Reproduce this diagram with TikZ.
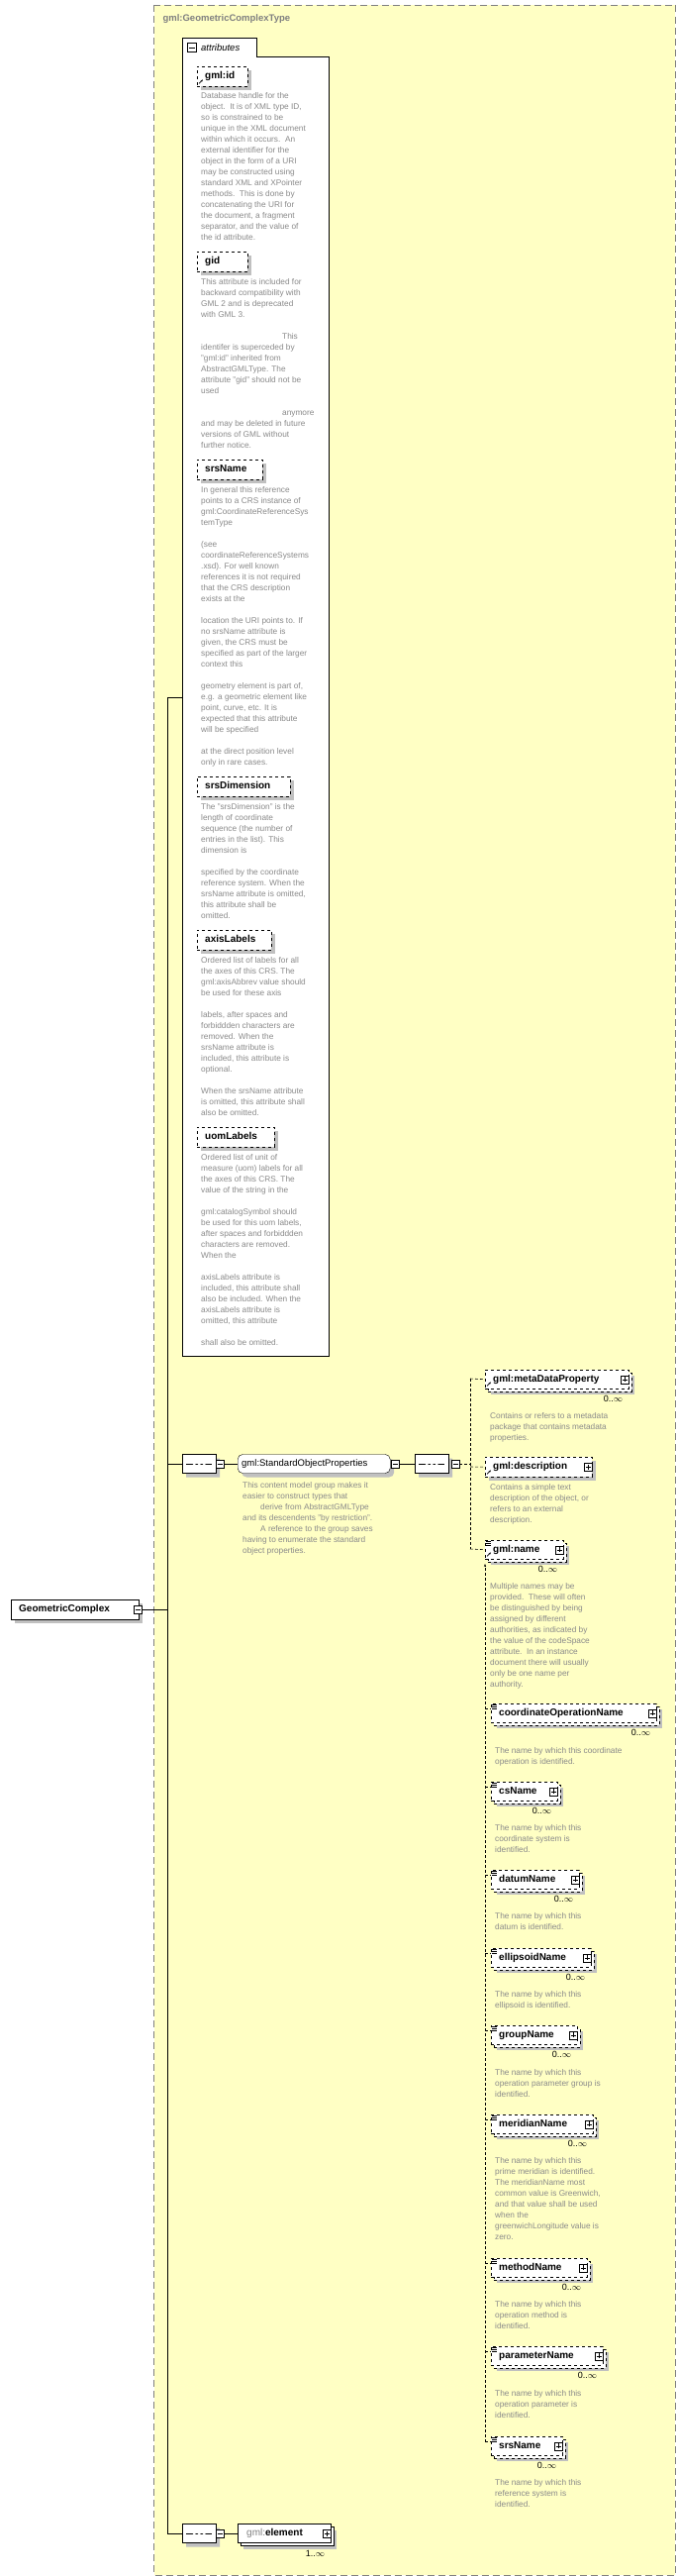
\documentclass[tikz,border=0pt]{standalone}
\usepackage{fontspec}
\setmainfont{Liberation Sans}
\usetikzlibrary{shapes.misc,shadows,calc,arrows.meta}
\definecolor{bgy}{HTML}{FFFFC4}
\definecolor{dgray}{HTML}{8A8A8A}
\definecolor{shd}{HTML}{C0C0C0}
\tikzset{
  elbox/.style={draw, dashed, fill=white, font=\fontsize{10}{12}\selectfont\bfseries, anchor=north west, minimum height=20pt, inner sep=1pt, align=left, drop shadow={shadow xshift=4pt, shadow yshift=-4pt, fill=shd, opacity=1}},
  repbox/.style={draw, dashed, fill=white, font=\fontsize{10}{12}\selectfont\bfseries, anchor=north west, minimum height=19pt, inner sep=1pt, align=left,
     drop shadow={shadow xshift=6pt, shadow yshift=-6pt, fill=shd, opacity=1},
     copy shadow={shadow xshift=3pt, shadow yshift=-3pt, draw, dashed, fill=white}},
  desc/.style={anchor=north west, align=left, inner sep=0pt, text=dgray, font=\fontsize{8.3}{11}\selectfont},
  mult/.style={anchor=north east, inner sep=0pt, font=\fontsize{9}{11}\selectfont},
  pbox/.style={draw, solid, fill=white, minimum size=8pt, inner sep=0pt, path picture={
     \draw ([xshift=1.5pt]path picture bounding box.west)--([xshift=-1.5pt]path picture bounding box.east)
           ([yshift=-1.5pt]path picture bounding box.north)--([yshift=1.5pt]path picture bounding box.south);}},
  mbox/.style={draw, solid, fill=white, minimum size=8pt, inner sep=0pt, path picture={
     \draw ([xshift=1.5pt]path picture bounding box.west)--([xshift=-1.5pt]path picture bounding box.east);}},
  seqbox/.style={chamfered rectangle, chamfered rectangle xsep=4pt, draw, fill=white, anchor=west, minimum width=34pt, minimum height=19pt, inner sep=0pt,
     drop shadow={shadow xshift=4pt, shadow yshift=-4pt, fill=shd, opacity=1},
     path picture={\draw ([xshift=4pt]path picture bounding box.west)--([xshift=-4pt]path picture bounding box.east);
       \fill ($(path picture bounding box.center)+(-5,0)$) circle (1.6pt) (path picture bounding box.center) circle (1.6pt) ($(path picture bounding box.center)+(5,0)$) circle (1.6pt);}},
  conn/.style={line width=0.8pt},
  dconn/.style={densely dashed, line width=0.6pt},
}
\newcommand{\eqicon}[1]{\draw[line width=0.5pt] ($(#1.north west)+(1,1.5)$)--++(5,0) ($(#1.north west)+(1,3.5)$)--++(5,0) ($(#1.north west)+(1,5.5)$)--++(5,0);}
\newcommand{\reficon}[1]{\draw[line width=0.7pt,-{Stealth[length=2.5pt]}] ($(#1.south west)+(2,-3)$)--++(4,-4);}
\newcommand{\lb}[2]{\hspace*{7pt}#2\vphantom{Ag}}
\begin{document}
\begin{tikzpicture}[x=1pt,y=-1pt]
\useasboundingbox (0,0) rectangle (683,2601);
% outer type box
\draw[fill=bgy, draw=gray, dash pattern=on 7pt off 4pt, line width=0.7pt] (155.5,5) rectangle (682,2600);
\node[anchor=west, text=gray, font=\fontsize{9.5}{11}\selectfont\bfseries] (title) at (161,19) {gml:GeometricComplexType};
% attributes box
\draw[fill=white, line width=0.7pt] (184,38) -- (259,38) -- (259,57) -- (332,57) -- (332,1369) -- (184,1369) -- cycle;
\node[mbox, minimum size=9pt] (attrm) at (194,48) {};
\node[anchor=west, font=\fontsize{9.5}{11}\selectfont\itshape, inner sep=0pt] (attrt) at (203,48) {attributes};

\node[elbox, text width=49pt] (aid) at (199,67) {\lb{}{gml:id}};
\reficon{aid}
\node[desc] (aidd) at (203,93) {Database handle for the\\object.\ \ It is of XML type ID,\\so is constrained to be\\unique in the XML document\\within which it occurs.\ \ An\\external identifier for the\\object in the form of a URI\\may be constructed using\\standard XML and XPointer\\methods.\ \ This is done by\\concatenating the URI for\\the document, a fragment\\separator, and the value of\\the id attribute.};

\node[elbox, text width=49pt] (agid) at (199,254) {\lb{}{gid}};
\node[desc] (agidd) at (203,281) {This attribute is included for\\backward compatibility with\\GML 2 and is deprecated\\with GML 3.\\[11pt]\hspace*{82pt}This\\identifer is superceded by\\"gml:id" inherited from\\AbstractGMLType. The\\attribute "gid" should not be\\used\\[11pt]\hspace*{82pt}anymore\\and may be deleted in future\\versions of GML without\\further notice.};

\node[elbox, text width=64pt] (asrs) at (199,464) {\lb{}{srsName}};
\node[desc] (asrsd) at (203,491) {In general this reference\\points to a CRS instance of\\gml:CoordinateReferenceSys\\temType\\[11pt](see\\coordinateReferenceSystems\\.xsd). For well known\\references it is not required\\that the CRS description\\exists at the\\[11pt]location the URI points to. If\\no srsName attribute is\\given, the CRS must be\\specified as part of the larger\\context this\\[11pt]geometry element is part of,\\e.g. a geometric element like\\point, curve, etc. It is\\expected that this attribute\\will be specified\\[11pt]at the direct position level\\only in rare cases.};

\node[elbox, text width=92pt] (adim) at (199,784) {\lb{}{srsDimension}};
\node[desc] (adimd) at (203,811) {The "srsDimension" is the\\length of coordinate\\sequence (the number of\\entries in the list). This\\dimension is\\[11pt]specified by the coordinate\\reference system. When the\\srsName attribute is omitted,\\this attribute shall be\\omitted.};

\node[elbox, text width=73pt] (aax) at (199,939) {\lb{}{axisLabels}};
\node[desc] (aaxd) at (203,966) {Ordered list of labels for all\\the axes of this CRS. The\\gml:axisAbbrev value should\\be used for these axis\\[11pt]labels, after spaces and\\forbiddden characters are\\removed. When the\\srsName attribute is\\included, this attribute is\\optional.\\[11pt]When the srsName attribute\\is omitted, this attribute shall\\also be omitted.};

\node[elbox, text width=76pt] (auom) at (199,1138) {\lb{}{uomLabels}};
\node[desc] (auomd) at (203,1165) {Ordered list of unit of\\measure (uom) labels for all\\the axes of this CRS. The\\value of the string in the\\[11pt]gml:catalogSymbol should\\be used for this uom labels,\\after spaces and forbiddden\\characters are removed.\\When the\\[11pt]axisLabels attribute is\\included, this attribute shall\\also be included. When the\\axisLabels attribute is\\omitted, this attribute\\[11pt]shall also be omitted.};

% root
\node[draw, fill=white, anchor=north west, text width=127pt, align=left, minimum height=20pt, inner sep=1pt, font=\fontsize{10}{12}\selectfont\bfseries, drop shadow={shadow xshift=4pt, shadow yshift=-4pt, fill=shd, opacity=1}] (root) at (11,1615) {\lb{}{GeometricComplex}};
\node[mbox] (rootm) at (139,1625) {};
\coordinate (tt) at (169,704);
\coordinate (tb) at (169,2558);
\draw[conn] (rootm.east) -- (169,1625);
\draw[conn] (184,704) -- (tt) -- (tb);

% sequence 1 and group
\node[seqbox] (s1) at (184,1478) {};
\node[mbox] (s1m) at (222,1478) {};
\draw[conn] (169,1478) -- (s1.west);
\node[draw, fill=white, rounded corners=5pt, anchor=west, text width=152pt, align=left, minimum height=19pt, inner sep=1pt, font=\fontsize{9.5}{11}\selectfont, drop shadow={shadow xshift=4pt, shadow yshift=-4pt, fill=shd, opacity=1}] (sop) at (240,1478) {\hspace*{3pt}gml:StandardObjectProperties\vphantom{Ag}};
\node[mbox] (sopm) at (399,1478) {};
\draw[conn] (s1m.east) -- (sop.west);
\node[desc] (sopd) at (245,1496) {This content model group makes it\\easier to construct types that\\\hspace*{18pt}derive from AbstractGMLType\\and its descendents "by restriction".\\\hspace*{18pt}A reference to the group saves\\having to enumerate the standard\\object properties.};
\node[seqbox] (s2) at (419,1478) {};
\node[mbox] (s2m) at (460,1478) {};
\draw[conn] (sopm.east) -- (s2.west);

% right elements
\node[repbox, text width=143pt] (emd) at (490,1383) {\lb{}{gml:metaDataProperty}};
\node[pbox] at ($(emd.east)+(-4,0)$) {};
\reficon{emd}
\node[mult] (emdm) at ($(emd.south east)+(-6,7)$) {0..$\infty$};
\node[desc] (emdd) at (495,1426) {Contains or refers to a metadata\\package that contains metadata\\properties.};

\node[elbox, text width=106pt] (eds) at (490,1471) {\lb{}{gml:description}};
\node[pbox] at ($(eds.east)+(-4,0)$) {};
\reficon{eds}
\node[desc] (edsd) at (495,1498) {Contains a simple text\\description of the object, or\\refers to an external\\description.};

\node[repbox, text width=77pt] (enm) at (490,1555) {\lb{}{gml:name}};
\node[pbox] at ($(enm.east)+(-4,0)$) {};
\reficon{enm}\eqicon{enm}
\node[mult] (enmm) at ($(enm.south east)+(-6,7)$) {0..$\infty$};
\node[desc] (enmd) at (495,1598) {Multiple names may be\\provided.\ \ These will often\\be distinguished by being\\assigned by different\\authorities, as indicated by\\the value of the codeSpace\\attribute.\ \ In an instance\\document there will usually\\only be one name per\\authority.};

\draw[dconn] (s2m.east) -- (475,1478) (475,1392) -- (475,1564);
\draw[dconn] (475,1392) -- (emd.west) (475,1481) -- (eds.west) (475,1564) -- (enm.west);

\node[repbox, text width=165pt] (e1) at (496,1720) {\lb{}{coordinateOperationName}};
\node[desc] (e1d) at (500,1764) {The name by which this coordinate\\operation is identified.};
\node[repbox, text width=65pt] (e2) at (496,1799) {\lb{}{csName}};
\node[desc] (e2d) at (500,1842) {The name by which this\\coordinate system is\\identified.};
\node[repbox, text width=87pt] (e3) at (496,1888) {\lb{}{datumName}};
\node[desc] (e3d) at (500,1931) {The name by which this\\datum is identified.};
\node[repbox, text width=99pt] (e4) at (496,1967) {\lb{}{ellipsoidName}};
\node[desc] (e4d) at (500,2010) {The name by which this\\ellipsoid is identified.};
\node[repbox, text width=85pt] (e5) at (496,2045) {\lb{}{groupName}};
\node[desc] (e5d) at (500,2089) {The name by which this\\operation parameter group is\\identified.};
\node[repbox, text width=101pt] (e6) at (496,2135) {\lb{}{meridianName}};
\node[desc] (e6d) at (500,2178) {The name by which this\\prime meridian is identified.\\The meridianName most\\common value is Greenwich,\\and that value shall be used\\when the\\greenwichLongitude value is\\zero.};
\node[repbox, text width=95pt] (e7) at (496,2280) {\lb{}{methodName}};
\node[desc] (e7d) at (500,2323) {The name by which this\\operation method is\\identified.};
\node[repbox, text width=111pt] (e8) at (496,2369) {\lb{}{parameterName}};
\node[desc] (e8d) at (500,2413) {The name by which this\\operation parameter is\\identified.};
\node[repbox, text width=70pt] (e9) at (496,2460) {\lb{}{srsName}};
\node[desc] (e9d) at (500,2503) {The name by which this\\reference system is\\identified.};
\foreach \n in {e1,e2,e3,e4,e5,e6,e7,e8,e9}{
  \node[pbox] at ($(\n.east)+(-4,0)$) {};
  \eqicon{\n}
  \node[mult] at ($(\n.south east)+(-6,7)$) {0..$\infty$};
  \draw[dconn] ($(\n.west)+(-6,-4)$) -- ($(\n.west)+(0,-4)$);
}
\draw[dconn, -{Stealth[length=3pt]}] (490,2466) -- (490,1579);

% bottom element
\node[seqbox] (s3) at (184,2558) {};
\node[mbox] (s3m) at (222,2558) {};
\draw[conn] (tb) -- (s3.west);
\node[draw, fill=white, anchor=west, text width=92pt, align=left, minimum height=19pt, inner sep=1pt, font=\fontsize{10}{12}\selectfont,
   drop shadow={shadow xshift=6pt, shadow yshift=-6pt, fill=shd, opacity=1},
   copy shadow={shadow xshift=3pt, shadow yshift=-3pt, draw, fill=white}] (gel) at (240,2558) {\hspace*{8pt}\textcolor{gray}{gml:}\textbf{element}\vphantom{Ag}};
\node[pbox] at ($(gel.east)+(-4,0)$) {};
\draw[conn] (s3m.east) -- (gel.west);
\node[mult] (gelm) at ($(gel.south east)+(-6,7)$) {1..$\infty$};
\end{tikzpicture}
\end{document}
